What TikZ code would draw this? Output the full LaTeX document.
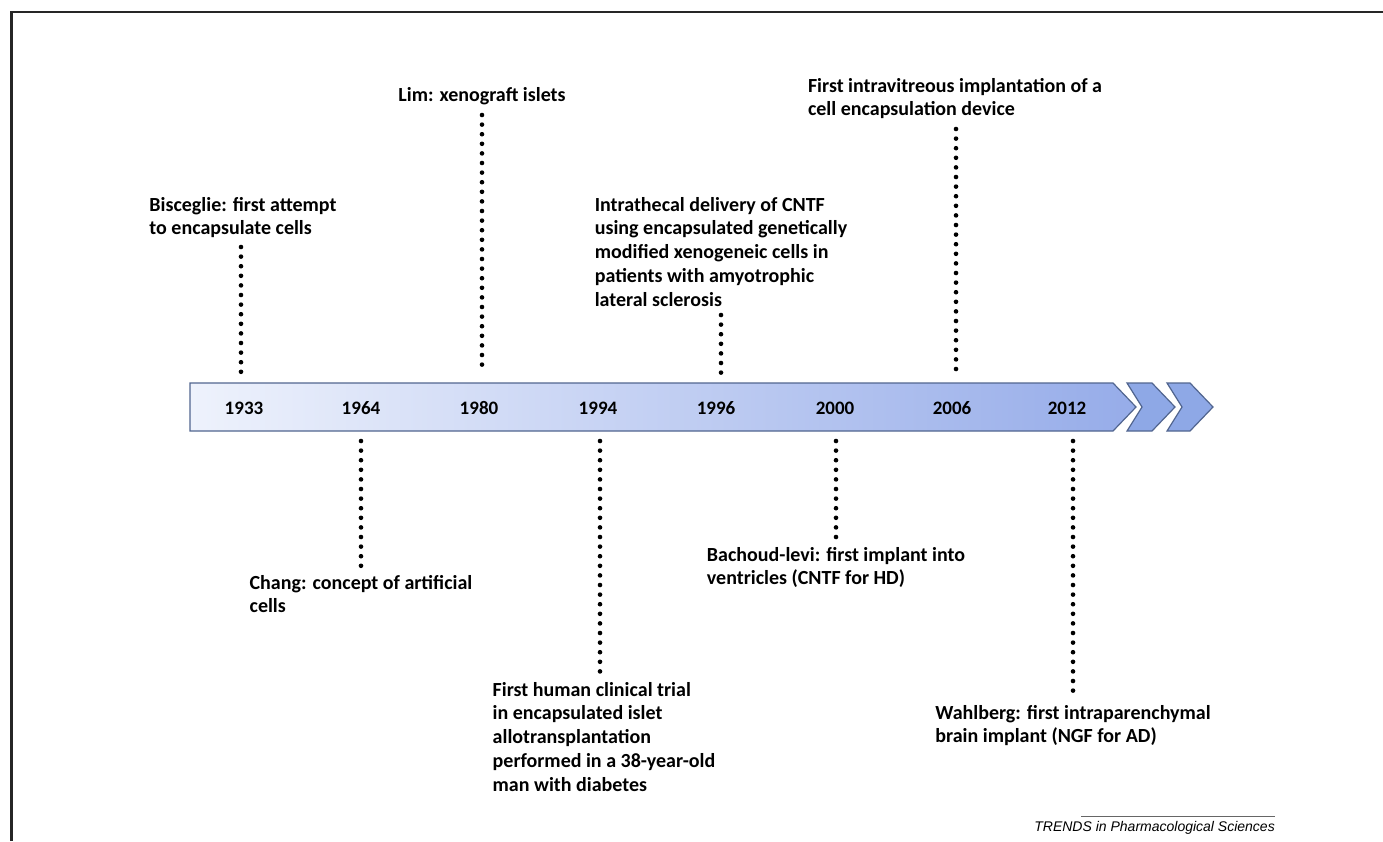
\documentclass[tikz,border=0pt]{standalone}
\usepackage{fontspec}
\setmainfont{Carlito}
\newfontfamily\trendsfont{Liberation Sans}
\usepackage{tikz}

\definecolor{barleft}{HTML}{EEF2FC}
\definecolor{barright}{HTML}{96ACE9}
\definecolor{barline}{HTML}{51658F}
\definecolor{chevfill}{HTML}{8EA8E6}

\begin{document}
\begin{tikzpicture}[x=1pt,y=-1pt,
                    yearnode/.style={inner sep=0pt, font=\fontsize{19}{22}\selectfont\bfseries},
                    labelnode/.style={anchor=north, align=left, inner sep=0pt, font=\fontsize{20}{23.7}\selectfont\bfseries},
                    dotline/.style={line width=4.6pt, line cap=round, dash pattern=on 0pt off 9.6pt},
                    chevron/.style={draw=barline, fill=chevfill, line width=1.2pt, line join=miter}]
                \useasboundingbox (0,0) rectangle (1383,841);
                \draw[line width=2.4pt, black!85] (11.5,841) -- (11.5,12) -- (1383,12);
                \shade[left color=barleft, right color=barright, draw=barline, line width=1.2pt]
                    (190,383) -- (1113,383) -- (1136,407) -- (1113,431) -- (190,431) -- cycle;
                \draw[chevron] (1127,383) -- (1152,383) -- (1175,407) -- (1152,431) -- (1127,431) -- (1142,407) -- cycle;
                \draw[chevron] (1167,383) -- (1190,383) -- (1213,407) -- (1190,431) -- (1167,431) -- (1182,407) -- cycle;
                \coordinate (bartop) at (0,374);
                \coordinate (barbot) at (0,441);
                \node[yearnode] (y1933) at (244,408) {1933};
                \node[yearnode] (y1964) at (361,408) {1964};
                \node[yearnode] (y1980) at (479,408) {1980};
                \node[yearnode] (y1994) at (598,408) {1994};
                \node[yearnode] (y1996) at (716,408) {1996};
                \node[yearnode] (y2000) at (835,408) {2000};
                \node[yearnode] (y2006) at (952,408) {2006};
                \node[yearnode] (y2012) at (1067,408) {2012};
                \node[labelnode] (bisceglie) at (243,197) {Bisceglie: first attempt\\to encapsulate cells};
                \node[labelnode] (lim) at (482,87) {Lim: xenograft islets};
                \node[labelnode] (intravit) at (955,78) {First intravitreous implantation of a\\cell encapsulation device};
                \node[labelnode] (intrathecal) at (721,197) {Intrathecal delivery of CNTF\\using encapsulated genetically\\modified xenogeneic cells in\\patients with amyotrophic\\lateral sclerosis};
                \node[labelnode] (chang) at (361,575) {Chang: concept of artificial\\cells};
                \node[labelnode] (firsthuman) at (604,682) {First human clinical trial\\in encapsulated islet\\allotransplantation\\performed in a 38-year-old\\man with diabetes};
                \node[labelnode] (bachoud) at (836,547) {Bachoud-levi: first implant into\\ventricles (CNTF for HD)};
                \node[labelnode] (wahlberg) at (1073,705) {Wahlberg: first intraparenchymal\\brain implant (NGF for AD)};
                \coordinate (d1933) at (241,247);
                \coordinate (d1980) at (482,115);
                \coordinate (d1996) at (721,315);
                \coordinate (d2006) at (956,129);
                \coordinate (d1964) at (361,566);
                \coordinate (d1994) at (600,673);
                \coordinate (d2000) at (836,537);
                \coordinate (d2012) at (1073,696);
                \draw[dotline] (d1933) -- (d1933 |- bartop);
                \draw[dotline] (d1980) -- (d1980 |- bartop);
                \draw[dotline] (d1996) -- (d1996 |- bartop);
                \draw[dotline] (d2006) -- (d2006 |- bartop);
                \draw[dotline] (d1964 |- barbot) -- (d1964);
                \draw[dotline] (d1994 |- barbot) -- (d1994);
                \draw[dotline] (d2000 |- barbot) -- (d2000);
                \draw[dotline] (d2012 |- barbot) -- (d2012);
                \node[anchor=base east, inner sep=0pt, font=\trendsfont\itshape\fontsize{14}{16}\selectfont] (trends) at (1275,831) {TRENDS in Pharmacological Sciences};
                \draw[black!60, line width=1pt] (trends.north east |- 0,816) -- (1081,816);
            \end{tikzpicture}
\end{document}
